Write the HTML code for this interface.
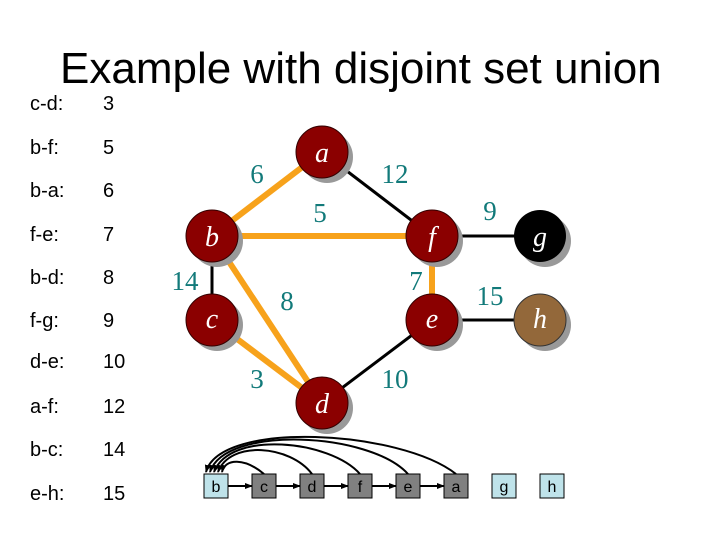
<!DOCTYPE html>
<html><head><meta charset="utf-8"><style>
body{margin:0;background:#fff}
svg{display:block}
.l{font-family:"Liberation Sans",sans-serif;font-size:20px;fill:#000}
.w{font-family:"Liberation Serif",serif;font-size:27px;fill:#127a7a}
.n{font-family:"Liberation Serif",serif;font-style:italic;font-size:28px;fill:#fff}
.bx{font-family:"Liberation Sans",sans-serif;font-size:16px;fill:#000}
</style></head><body>
<svg width="720" height="540" viewBox="0 0 720 540">
<defs><marker id="ar" markerWidth="8" markerHeight="8" refX="7" refY="4" orient="auto" markerUnits="userSpaceOnUse"><path d="M0,1 L8,4 L0,7z" fill="#000"/></marker></defs>
<text x="60" y="83" font-family="Liberation Sans,sans-serif" font-size="44">Example with disjoint set union</text>
<g class="l">
<text x="30" y="110">c-d:</text><text x="103" y="110">3</text>
<text x="30" y="154">b-f:</text><text x="103" y="154">5</text>
<text x="30" y="197">b-a:</text><text x="103" y="197">6</text>
<text x="30" y="241">f-e:</text><text x="103" y="241">7</text>
<text x="30" y="284">b-d:</text><text x="103" y="284">8</text>
<text x="30" y="327">f-g:</text><text x="103" y="327">9</text>
<text x="30" y="368">d-e:</text><text x="103" y="368">10</text>
<text x="30" y="413">a-f:</text><text x="103" y="413">12</text>
<text x="30" y="456">b-c:</text><text x="103" y="456">14</text>
<text x="30" y="500">e-h:</text><text x="103" y="500">15</text>
</g>
<g stroke="#000" stroke-width="3">
<line x1="322" y1="152" x2="432" y2="236"/><line x1="432" y1="236" x2="540" y2="236"/>
<line x1="212" y1="236" x2="212" y2="320"/><line x1="432" y1="320" x2="540" y2="320"/>
<line x1="322" y1="403" x2="432" y2="320"/>
</g>
<g stroke="#f7a21b" stroke-width="6">
<line x1="212" y1="236" x2="322" y2="152"/><line x1="212" y1="236" x2="432" y2="236"/>
<line x1="212" y1="236" x2="322" y2="403"/><line x1="212" y1="320" x2="322" y2="403"/>
<line x1="432" y1="236" x2="432" y2="320"/>
</g>
<g>
<circle cx="327" cy="157" r="26" fill="#999"/><circle cx="217" cy="241" r="26" fill="#999"/><circle cx="217" cy="325" r="26" fill="#999"/><circle cx="327" cy="408" r="26" fill="#999"/><circle cx="437" cy="241" r="26" fill="#999"/><circle cx="437" cy="325" r="26" fill="#999"/><circle cx="545" cy="241" r="26" fill="#999"/><circle cx="545" cy="325" r="26" fill="#999"/>
<g fill="#8b0000" stroke="#300" stroke-width="1">
<circle cx="322" cy="152" r="26"/><circle cx="212" cy="236" r="26"/><circle cx="212" cy="320" r="26"/><circle cx="322" cy="403" r="26"/><circle cx="432" cy="236" r="26"/><circle cx="432" cy="320" r="26"/>
</g>
<circle cx="540" cy="236" r="26" fill="#000"/><circle cx="540" cy="320" r="26" fill="#93683a" stroke="#333"/>
</g>
<g class="n" text-anchor="middle">
<text x="322" y="162">a</text><text x="212" y="246">b</text><text x="212" y="328">c</text><text x="322" y="413">d</text><text x="432" y="246">f</text><text x="432" y="328">e</text><text x="540" y="246">g</text><text x="540" y="328">h</text>
</g>
<g class="w" text-anchor="middle">
<text x="257" y="183">6</text><text x="395" y="183">12</text><text x="320" y="222">5</text><text x="490" y="220">9</text>
<text x="185" y="290">14</text><text x="287" y="310">8</text><text x="416" y="290">7</text><text x="490" y="305">15</text>
<text x="257" y="388">3</text><text x="395" y="388">10</text>
</g>
<g fill="none" stroke="#000" stroke-width="2">
<path d="M264,474 C245,458 225,458 222,472" marker-end="url(#ar)"/>
<path d="M312,474 C290,445 230,440 218,472" marker-end="url(#ar)"/>
<path d="M360,474 C330,440 230,430 214,472" marker-end="url(#ar)"/>
<path d="M408,474 C370,432 225,425 210,472" marker-end="url(#ar)"/>
<path d="M456,474 C400,430 220,420 206,472" marker-end="url(#ar)"/>
<line x1="228" y1="486" x2="252" y2="486" marker-end="url(#ar)"/>
<line x1="276" y1="486" x2="300" y2="486" marker-end="url(#ar)"/>
<line x1="324" y1="486" x2="348" y2="486" marker-end="url(#ar)"/>
<line x1="372" y1="486" x2="396" y2="486" marker-end="url(#ar)"/>
<line x1="420" y1="486" x2="444" y2="486" marker-end="url(#ar)"/>
</g>
<g stroke="#000" stroke-width="1">
<rect x="204" y="474" width="24" height="24" fill="#bfe3ea"/>
<rect x="252" y="474" width="24" height="24" fill="#808080"/>
<rect x="300" y="474" width="24" height="24" fill="#808080"/>
<rect x="348" y="474" width="24" height="24" fill="#808080"/>
<rect x="396" y="474" width="24" height="24" fill="#808080"/>
<rect x="444" y="474" width="24" height="24" fill="#808080"/>
<rect x="492" y="474" width="24" height="24" fill="#bfe3ea"/>
<rect x="540" y="474" width="24" height="24" fill="#bfe3ea"/>
</g>
<g class="bx" text-anchor="middle">
<text x="216" y="492">b</text><text x="264" y="492">c</text><text x="312" y="492">d</text><text x="360" y="492">f</text><text x="408" y="492">e</text><text x="456" y="492">a</text><text x="504" y="492">g</text><text x="552" y="492">h</text>
</g>
</svg>
</body></html>
